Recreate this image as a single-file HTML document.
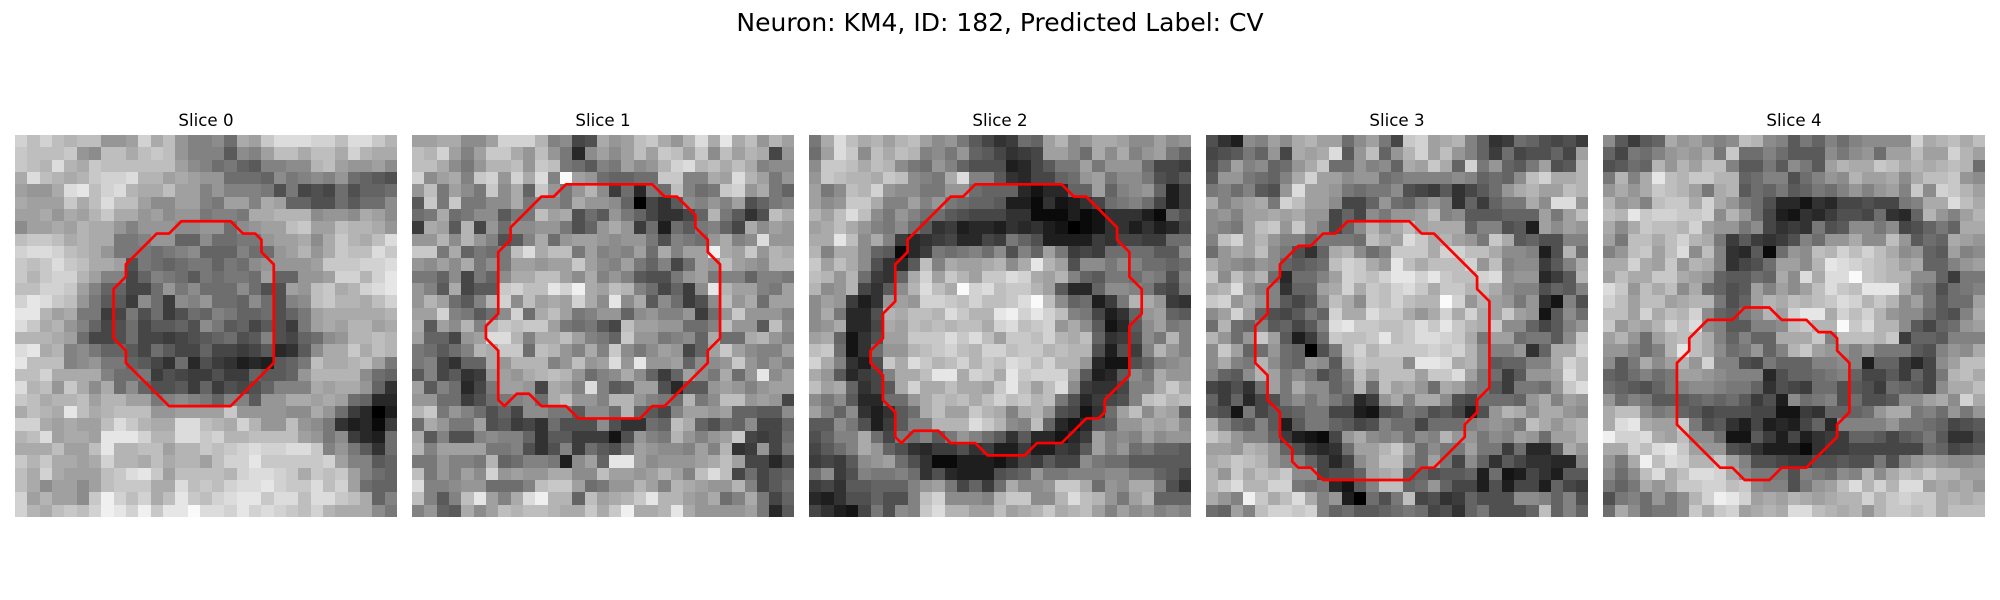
<!DOCTYPE html>
<html>
<head>
<meta charset="utf-8">
<title>Neuron slices</title>
<style>
html,body{margin:0;padding:0;background:#fff;}
svg{display:block;}
text{font-family:"DejaVu Sans","Liberation Sans",sans-serif;fill:#000;}
</style>
</head>
<body>
<svg id="figure" width="2000" height="600" viewBox="0 0 2000 600" xmlns="http://www.w3.org/2000/svg">
<rect x="0" y="0" width="2000" height="600" fill="#ffffff"/>
<text x="1000" y="31" text-anchor="middle" font-size="25">Neuron: KM4, ID: 182, Predicted Label: CV</text>
</svg>
<script>
const sliceTitles = ["Slice 0","Slice 1","Slice 2","Slice 3","Slice 4"];

const slice0 = [
[21,19,21,19,18,19,19,15,15,16,21,17,19,15,13,13,14,11,17,16,20,22,22,22,21,21,19,22,22,20,18],
[20,19,19,19,20,15,14,19,19,17,19,20,19,15,13,13,13,9,14,13,16,19,19,17,19,19,17,21,18,17,17],
[20,19,18,22,18,17,20,19,19,19,19,19,19,16,14,13,11,12,10,9,13,13,14,14,18,19,16,15,15,16,14],
[17,22,19,18,17,18,20,21,21,22,18,18,16,17,16,15,15,11,11,11,10,14,12,13,14,13,15,11,10,9,8],
[16,15,15,17,22,23,19,21,22,18,17,17,19,16,16,13,15,13,13,13,12,8,12,7,8,7,11,8,10,10,11],
[17,16,16,16,20,17,19,22,19,19,16,14,14,16,16,13,12,16,16,13,17,16,10,10,8,8,11,9,11,11,14],
[16,16,17,15,17,16,18,20,17,17,15,16,14,15,15,12,13,13,12,17,17,18,18,18,14,15,15,14,17,16,14],
[14,16,16,17,16,18,17,17,15,13,15,15,15,14,14,15,15,11,14,15,16,16,19,20,16,16,19,18,18,17,15],
[19,20,20,19,17,18,17,17,12,12,13,15,15,10,10,14,11,11,12,12,15,16,16,17,14,17,20,18,17,19,22],
[21,22,22,21,19,18,17,15,12,12,12,11,12,13,14,10,10,10,13,11,11,15,16,18,15,17,20,19,19,22,20],
[20,19,20,22,20,19,17,17,16,8,12,11,10,11,12,12,10,12,11,14,15,15,15,15,16,20,20,20,21,21,22],
[20,18,20,21,21,18,16,13,13,7,10,13,12,11,9,12,11,12,12,11,16,10,10,15,15,16,21,21,18,21,23],
[19,19,21,21,20,16,13,10,10,7,7,11,15,12,14,11,11,11,14,11,8,8,16,15,19,20,17,18,21,22,23],
[21,23,22,20,19,15,12,9,9,6,14,11,6,14,13,15,11,11,10,14,11,8,13,14,19,20,18,18,17,19,21],
[23,23,18,16,17,12,12,6,7,12,8,11,6,8,11,10,13,12,10,10,11,8,10,12,16,17,17,17,17,17,18],
[22,20,17,18,15,13,10,7,8,11,7,9,9,10,8,14,12,9,10,7,9,8,6,12,16,17,16,18,18,16,17],
[18,18,18,17,16,11,7,7,8,11,7,7,6,7,8,9,10,11,8,9,13,8,7,10,11,14,15,18,18,19,18],
[22,23,17,18,13,14,12,10,10,9,7,11,9,7,7,10,7,7,6,7,9,4,5,9,14,17,17,20,17,19,18],
[23,19,19,19,13,14,15,12,12,10,9,7,5,11,4,8,6,5,3,4,3,9,10,12,19,17,17,18,19,16,12],
[19,19,21,17,17,17,17,13,11,11,12,6,8,7,6,6,8,6,6,10,9,9,10,15,18,18,18,18,14,11,10],
[22,18,19,15,20,17,14,17,11,14,10,8,8,9,6,10,6,8,7,8,10,13,13,13,17,16,17,17,15,10,5],
[20,19,17,18,18,19,16,18,18,16,16,12,13,14,13,12,10,13,13,9,15,15,17,17,16,17,16,11,10,4,4],
[17,19,18,17,23,19,17,18,19,19,19,15,15,16,16,16,16,20,15,15,15,15,14,14,17,15,11,6,4,0,3],
[21,21,17,16,17,16,16,19,22,20,18,17,17,22,22,19,18,17,21,18,15,15,19,15,14,12,5,3,4,1,6],
[18,19,22,16,17,17,16,23,23,23,21,18,18,22,22,20,21,18,18,19,19,19,19,16,15,12,14,6,4,3,11],
[17,17,17,19,16,16,19,23,18,18,19,19,16,18,18,20,19,20,21,22,21,21,22,22,20,13,15,12,9,5,11],
[20,18,20,17,17,16,17,21,18,18,17,19,17,18,18,16,19,21,21,23,20,20,20,20,20,21,16,13,13,9,10],
[19,17,21,17,16,16,16,19,20,22,23,20,16,19,19,19,19,18,21,22,22,21,20,17,20,19,20,16,13,11,10],
[19,17,14,16,16,14,16,19,20,20,20,17,17,22,19,20,19,21,22,22,23,21,20,20,22,19,21,16,11,10,10],
[21,16,18,16,16,14,20,24,21,19,21,17,19,23,20,19,21,22,23,23,20,22,22,19,22,22,20,19,17,10,13],
[21,18,17,19,20,19,21,24,23,21,24,20,23,23,25,22,22,21,23,21,22,21,20,19,21,18,17,17,17,14,12]
];

const slice1 = [
[16,16,17,17,14,14,16,21,21,21,18,13,14,7,8,17,15,16,19,20,17,15,18,22,17,23,17,19,15,18,16],
[19,18,21,16,13,16,20,20,17,15,19,15,12,4,14,16,14,16,19,16,20,19,16,20,14,19,16,18,17,7,15],
[19,19,17,14,12,15,18,18,19,15,20,19,12,11,9,13,12,16,14,15,18,21,22,18,19,17,19,17,13,14,14],
[21,14,16,17,13,20,21,15,21,17,22,13,25,16,15,11,10,10,11,11,20,20,13,13,17,16,22,18,16,12,15],
[15,19,12,16,14,12,20,14,17,10,20,15,12,15,18,14,6,11,4,12,11,19,13,11,12,20,21,15,17,12,10],
[9,20,12,20,12,12,14,14,17,12,14,14,12,17,15,15,14,10,0,7,5,9,14,13,15,13,16,8,10,12,13],
[11,12,17,11,12,14,14,9,12,12,19,16,17,8,11,9,15,12,10,7,5,5,7,10,18,12,9,5,8,19,17],
[6,17,16,9,18,7,15,11,14,14,15,15,12,8,10,15,17,15,6,11,3,11,9,12,13,10,7,17,14,16,15],
[15,15,18,14,18,15,13,8,9,13,17,11,15,16,16,15,14,15,15,12,8,13,12,11,15,17,13,14,22,15,15],
[20,20,12,17,10,12,11,12,19,22,17,19,19,12,16,13,14,13,16,11,17,13,16,16,24,17,16,20,15,18,17],
[15,14,16,14,17,12,14,12,16,16,15,16,16,20,16,14,13,16,12,10,13,7,11,16,15,19,16,15,14,18,18],
[12,12,10,14,7,12,10,14,17,17,19,19,16,14,17,13,15,13,9,8,8,12,15,16,12,13,13,10,13,13,12],
[15,13,9,17,7,9,9,20,21,19,19,23,21,24,17,16,19,18,13,11,7,10,6,14,23,18,16,16,13,12,16],
[15,18,16,11,9,13,18,21,14,19,16,17,16,21,17,14,23,14,17,9,14,11,6,8,14,19,15,17,11,16,16],
[16,16,21,13,12,9,11,14,21,11,17,19,16,12,13,15,15,10,14,15,13,13,15,6,11,15,20,15,15,15,13],
[17,9,16,14,18,13,18,20,19,20,20,16,12,11,12,9,7,19,16,16,15,15,11,11,13,19,15,15,9,19,14],
[16,10,10,7,15,16,22,22,18,13,17,17,19,16,13,12,10,20,15,15,12,13,14,10,17,11,11,17,18,15,13],
[12,11,9,11,13,18,17,20,20,11,19,18,15,13,17,13,20,14,12,14,16,15,7,10,16,20,16,14,13,13,16],
[12,13,7,5,10,10,17,15,18,18,18,13,15,19,15,16,22,15,23,15,15,16,10,14,14,15,20,15,13,15,13],
[9,13,7,9,5,6,15,16,15,17,18,19,18,15,11,13,14,17,14,10,6,10,16,14,12,17,11,15,23,14,16],
[16,9,13,11,4,7,12,16,16,15,7,17,16,13,22,13,9,10,16,16,8,4,9,9,15,16,15,13,15,16,16],
[15,15,11,11,6,8,11,12,13,14,11,17,19,15,15,13,18,18,15,13,12,11,18,12,14,19,19,15,16,15,7],
[18,20,12,15,13,11,8,10,7,14,14,12,12,9,14,14,11,18,10,9,7,13,16,16,15,16,10,10,9,9,14],
[11,17,15,12,12,16,8,9,6,7,5,11,8,8,8,14,8,5,5,11,10,19,17,10,8,11,10,14,7,7,10],
[17,9,13,8,8,13,14,13,13,10,5,9,9,6,6,6,2,8,15,13,12,18,15,13,15,16,20,7,6,7,11],
[18,13,16,16,16,16,12,12,13,8,5,8,13,6,11,9,8,12,16,15,14,14,13,16,13,18,5,6,15,7,12],
[12,12,15,13,13,12,18,10,11,13,13,12,3,14,16,10,23,23,16,14,15,15,15,16,17,19,16,7,7,4,7],
[19,12,15,13,16,14,21,15,16,15,15,17,17,14,14,19,16,16,15,16,18,16,13,19,22,19,7,11,7,9,10],
[22,13,13,14,15,15,11,11,11,13,19,20,20,16,11,12,15,15,18,16,13,18,17,16,15,15,18,13,7,9,11],
[19,13,9,13,19,23,16,13,17,22,24,18,18,10,19,16,17,18,20,23,18,18,16,15,17,11,13,17,12,7,10],
[13,15,10,9,17,14,16,19,18,19,19,18,17,17,20,17,20,24,17,17,18,23,17,15,15,15,15,16,12,4,9]
];

const slice2 = [
[12,17,22,19,17,18,16,18,19,16,14,15,12,9,7,5,6,11,10,16,18,14,15,17,17,16,14,14,16,14,15],
[11,16,22,20,14,19,17,19,18,13,14,12,15,10,9,7,5,6,7,16,16,14,11,17,14,17,13,15,16,12,10],
[14,20,20,19,17,19,18,14,12,11,15,13,10,8,8,8,3,4,7,9,12,12,16,12,15,15,15,11,7,7,6],
[15,20,19,18,18,17,20,19,14,13,12,17,22,13,13,9,5,4,7,7,10,11,15,16,12,14,14,12,8,7,9],
[16,12,14,19,18,21,15,14,14,12,12,15,15,11,10,10,10,4,2,4,4,10,10,16,10,13,14,15,10,3,6],
[16,14,15,20,20,17,13,13,16,13,15,12,11,10,10,9,3,3,1,5,2,3,5,7,11,12,13,11,7,3,6],
[18,16,19,22,19,14,12,15,13,11,11,9,8,7,7,7,5,5,1,1,1,3,1,2,5,5,5,3,1,10,8],
[16,17,19,17,15,13,12,14,11,9,5,6,3,4,4,3,5,4,5,3,2,0,1,2,5,5,3,5,3,4,7],
[17,17,23,19,14,17,13,6,4,5,6,7,4,4,7,6,12,10,8,3,3,3,3,6,5,7,7,6,6,11,11],
[18,13,17,17,14,10,9,1,4,6,12,11,12,13,11,14,8,13,10,16,12,6,7,6,11,11,11,11,9,9,14],
[20,16,19,17,14,8,5,4,9,19,13,17,16,16,17,18,14,17,23,18,16,8,14,14,12,14,13,11,11,10,11],
[19,18,15,18,11,6,5,10,17,21,16,20,18,16,20,20,22,21,17,16,18,13,10,9,12,12,11,13,12,8,13],
[18,14,15,18,7,5,9,14,18,22,19,17,25,21,22,19,20,20,18,16,9,4,4,10,14,14,13,12,8,7,12],
[14,16,15,6,3,5,15,16,15,21,21,20,19,21,19,19,20,22,25,19,14,10,11,3,6,12,18,17,15,6,5],
[14,17,12,4,4,8,18,17,19,19,18,22,20,18,18,23,24,21,23,21,19,13,12,7,3,5,10,15,16,10,9],
[14,15,17,4,4,7,17,16,19,18,19,18,19,19,17,21,22,19,20,21,15,17,14,9,2,4,9,14,16,12,13],
[16,17,10,2,5,8,16,16,20,20,20,22,20,22,19,16,20,20,19,21,18,17,19,10,5,6,8,14,12,18,13],
[19,20,11,2,5,11,15,15,18,19,20,21,19,18,21,21,19,20,20,18,19,18,18,8,3,8,6,13,18,15,13],
[21,17,13,5,3,8,20,17,22,20,18,19,21,18,20,19,22,21,19,21,18,18,15,4,2,2,8,10,13,14,15],
[17,15,9,4,6,7,13,17,17,19,23,23,17,21,20,17,23,20,21,21,21,16,9,3,4,9,14,12,17,15,15],
[19,16,17,10,5,7,9,17,21,17,17,19,17,17,16,20,23,19,16,19,22,14,6,5,5,7,13,13,17,20,17],
[14,12,14,9,4,4,11,11,15,17,19,18,19,17,19,21,19,20,18,19,12,8,4,6,7,8,13,19,20,18,19],
[16,13,10,14,5,3,5,9,11,17,19,16,16,20,18,17,13,17,18,15,8,7,2,5,11,16,19,14,17,16,10],
[9,9,14,12,8,3,6,9,13,13,18,18,18,22,20,18,14,13,19,10,4,2,4,9,10,15,15,17,16,17,14],
[8,10,13,13,17,11,7,12,11,13,9,12,15,13,11,9,5,9,4,4,2,4,6,16,13,14,13,16,14,15,15],
[7,9,11,13,17,15,10,8,5,4,6,6,8,5,6,3,3,6,3,3,6,5,9,16,13,15,11,12,10,10,9],
[6,7,6,9,14,15,16,11,8,5,1,1,3,3,3,2,4,7,6,9,7,7,14,12,11,11,9,9,9,9,9],
[11,14,6,8,13,12,12,13,11,5,8,4,3,3,3,8,9,10,15,12,12,13,13,13,14,14,12,12,10,9,7],
[6,7,5,9,9,10,10,10,13,15,16,12,7,10,6,11,17,14,14,15,20,20,17,11,15,14,17,17,13,8,5],
[4,3,5,8,8,10,8,8,13,19,21,14,14,14,13,18,20,20,14,14,18,22,19,18,15,12,16,18,10,10,10],
[7,5,3,2,7,12,8,14,13,20,22,18,18,16,16,19,16,17,18,20,17,18,19,16,13,16,14,15,13,14,13]
];

const slice3 = [
[8,5,3,14,13,16,14,17,18,16,16,11,14,16,12,7,20,21,16,17,18,13,10,5,6,11,10,8,7,8,6],
[7,8,9,12,10,15,7,17,16,17,22,9,15,19,10,15,18,21,16,19,15,13,10,6,11,7,8,8,10,7,16],
[8,11,16,13,14,10,11,15,17,20,11,11,15,13,14,10,17,16,20,17,10,21,12,15,10,9,12,16,8,9,18],
[9,15,15,12,11,10,13,17,21,16,16,14,15,15,11,12,13,13,13,13,14,13,10,11,10,14,19,21,17,17,18],
[12,13,11,13,9,8,15,22,16,16,15,12,11,12,12,14,8,7,6,9,5,7,9,11,15,17,18,16,16,19,18],
[17,13,15,16,17,12,21,19,16,16,14,7,7,10,15,11,10,13,15,13,5,10,6,10,12,12,17,14,22,22,15],
[14,15,13,16,16,17,16,17,15,15,7,10,7,14,12,15,15,16,19,13,14,9,9,9,10,10,10,16,12,16,19],
[14,13,12,16,19,20,15,20,15,13,7,10,14,18,15,17,19,16,17,17,17,10,13,13,8,9,3,16,14,16,15],
[13,19,21,16,18,15,13,13,10,12,12,12,11,19,17,16,22,20,17,18,16,15,12,20,17,9,10,8,8,13,13],
[11,15,17,16,19,14,12,8,5,10,17,18,14,11,13,20,20,20,17,21,21,19,19,17,14,14,13,3,8,18,11],
[17,15,14,13,15,14,10,9,10,11,19,21,20,17,15,23,19,17,19,19,19,21,15,19,13,14,14,6,9,13,17],
[20,14,19,16,18,11,4,11,11,13,16,21,20,19,21,23,23,21,23,20,19,19,21,22,14,15,15,4,6,9,18],
[17,18,22,15,13,13,5,10,10,16,17,21,17,20,19,21,22,20,17,20,20,18,19,17,14,13,13,8,10,9,13],
[20,21,15,17,15,13,9,7,9,14,19,17,14,20,19,21,19,18,18,25,21,15,18,16,15,12,15,5,2,13,8],
[14,16,21,16,10,8,7,9,12,10,21,17,17,22,20,20,17,15,17,21,17,21,17,16,20,16,15,2,9,14,11],
[11,18,11,10,13,9,10,7,9,13,22,23,20,20,19,19,20,22,20,23,20,18,17,20,14,14,10,7,9,13,15],
[18,15,11,15,20,16,9,3,6,11,20,19,19,20,23,19,20,22,22,21,20,17,12,16,16,11,12,12,9,14,20],
[14,20,16,10,11,15,11,10,0,8,12,19,21,18,20,20,20,20,21,20,21,18,14,13,13,15,5,10,17,17,21],
[14,17,13,12,18,14,11,10,15,14,9,17,20,19,19,19,14,23,23,22,17,18,14,9,10,10,13,13,17,21,19],
[13,10,9,14,18,16,12,14,12,8,10,13,19,16,19,19,19,16,20,20,22,16,12,11,6,9,15,15,16,22,19],
[7,6,8,5,11,16,12,17,14,14,10,12,18,11,19,16,17,15,11,17,16,13,12,9,6,12,12,11,15,20,22],
[10,6,10,4,7,8,12,14,12,14,12,10,4,6,15,17,13,17,17,14,8,7,11,11,11,10,15,17,13,16,15],
[9,8,2,12,7,9,9,10,12,12,7,7,3,2,8,9,12,11,8,9,7,3,8,15,18,17,14,17,17,15,14],
[17,13,10,9,13,9,3,9,12,12,10,9,7,8,13,11,11,7,11,11,11,13,14,15,14,12,19,17,15,17,18],
[20,18,15,13,13,10,6,3,2,1,7,15,17,14,13,14,11,14,13,18,15,15,12,14,13,16,15,11,16,16,18],
[16,16,15,18,17,15,10,8,5,4,5,11,16,16,18,20,16,11,14,12,12,16,12,12,6,11,4,4,9,17,15],
[17,18,20,19,18,15,13,13,10,7,4,7,14,16,19,19,14,11,16,12,7,14,10,5,9,7,5,5,4,4,13],
[18,15,20,17,19,18,20,14,14,7,8,8,10,16,17,18,9,10,8,9,9,10,3,11,2,3,7,5,3,9,9],
[18,20,22,18,18,21,21,12,11,12,4,2,9,13,19,19,10,11,15,10,7,7,3,8,3,7,7,3,10,7,6],
[17,15,13,24,20,17,19,22,17,13,15,3,0,11,8,12,19,7,8,5,6,10,8,8,8,14,14,13,10,13,8],
[11,10,16,13,19,21,21,20,21,13,10,11,9,9,10,11,12,11,7,8,5,10,12,8,8,8,10,19,10,13,10]
];

const slice4 = [
[14,9,6,9,10,17,15,16,14,13,14,19,18,14,13,9,12,10,13,11,13,14,14,14,14,21,17,18,19,17,19],
[10,7,12,11,13,15,16,15,17,12,20,11,11,13,11,9,9,9,14,12,14,15,11,16,16,19,16,16,21,18,16],
[8,9,11,10,18,15,18,16,19,19,13,9,9,12,9,14,12,9,16,18,17,17,20,19,17,18,17,18,19,18,11],
[12,18,13,17,23,19,18,20,20,18,18,10,11,13,13,8,11,13,15,14,18,16,16,17,14,17,19,19,20,15,14],
[15,17,15,17,20,19,18,16,12,17,18,9,11,10,12,9,10,12,11,13,15,13,15,16,13,20,14,21,20,18,16],
[18,15,16,13,19,20,20,17,21,17,15,12,11,8,4,4,2,5,4,7,7,8,7,7,12,13,17,17,22,19,17],
[19,18,23,20,21,21,20,20,21,14,18,15,11,7,3,2,5,4,6,8,8,7,11,5,4,10,18,15,13,16,18],
[17,14,17,20,19,19,18,21,16,15,15,12,14,7,5,6,5,12,8,9,14,14,12,14,7,8,10,12,10,17,17],
[16,12,19,19,17,19,21,18,17,12,6,9,6,5,6,8,13,11,15,15,17,14,14,19,15,9,11,10,17,16,15],
[13,15,19,20,16,19,22,14,19,13,5,4,9,1,11,15,14,19,18,21,19,21,19,17,14,15,10,9,16,13,14],
[17,17,21,17,16,20,15,18,17,13,5,7,8,11,16,16,14,18,23,22,21,20,19,18,16,17,10,10,13,15,16],
[16,19,17,17,20,20,17,16,15,10,9,9,11,10,17,14,22,17,22,22,25,20,19,18,18,14,14,10,6,12,12],
[22,20,15,19,17,19,14,17,11,10,8,9,16,13,16,14,16,19,22,20,19,23,23,23,17,13,12,8,11,12,13],
[21,19,16,19,19,16,17,18,18,12,8,10,16,18,17,19,18,19,20,22,21,18,20,18,14,16,12,9,11,11,16],
[19,19,16,21,17,19,18,21,14,10,9,12,14,18,16,21,23,23,17,21,19,21,18,15,14,14,11,9,8,13,17],
[20,15,17,16,18,21,19,22,14,13,9,9,13,13,14,19,20,18,18,25,20,22,18,18,14,9,7,10,11,15,16],
[16,18,15,11,16,18,19,19,17,13,10,13,10,10,17,17,17,20,13,19,19,19,18,20,6,10,10,9,13,13,13],
[15,15,13,11,13,18,23,19,17,14,11,12,15,10,13,18,20,16,15,15,13,15,12,12,12,9,8,13,15,14,17],
[14,9,12,17,14,16,18,15,21,13,13,8,7,12,10,10,10,13,13,14,13,3,10,10,6,4,7,14,16,19,19],
[10,9,11,13,11,12,16,16,15,14,13,13,13,4,8,10,10,11,12,13,10,7,7,9,6,10,7,12,18,19,17],
[11,10,9,8,10,12,13,14,14,13,12,12,10,5,8,7,6,11,11,8,9,8,6,11,10,9,7,14,17,17,19],
[15,11,13,12,9,9,9,10,11,10,11,9,6,8,3,14,11,12,13,8,11,8,8,9,14,14,16,17,14,21,17],
[17,19,19,14,12,13,10,9,7,8,8,8,7,7,2,2,6,5,10,10,10,11,15,17,17,12,13,11,15,12,15],
[17,22,23,17,16,16,20,12,8,9,5,3,7,3,4,3,7,10,4,13,13,13,13,15,12,12,11,10,7,8,9],
[24,21,21,22,17,16,19,14,14,11,2,2,9,6,3,7,3,5,6,6,10,10,9,7,9,10,12,9,5,5,8],
[17,17,21,19,22,23,20,16,15,15,8,7,5,3,3,3,1,5,6,6,7,7,7,7,7,7,11,10,7,8,9],
[15,12,17,24,19,22,21,18,18,20,16,13,8,8,7,6,6,8,8,9,8,8,12,8,13,15,16,15,14,14,15],
[14,11,14,19,22,17,19,22,22,21,17,14,12,12,12,8,13,12,11,14,13,18,14,17,19,18,20,18,18,16,16],
[12,10,12,17,15,17,20,20,21,21,19,20,14,13,13,8,12,15,16,19,22,18,21,18,22,22,16,17,16,17,15],
[8,12,13,11,15,12,14,18,21,24,23,21,16,17,16,18,17,16,17,18,18,21,18,20,21,20,20,17,18,17,18],
[11,17,14,11,12,12,14,20,17,20,21,16,17,18,17,22,22,19,18,17,18,15,18,20,20,19,20,17,19,19,19]
];

const contour0 = [[13.5,7],[17.5,7],[18.5,8],[19.5,8],[20,8.5],[20,9.5],[21,10.5],[21,18.5],[17.5,22],[12.5,22],[9,18.5],[9,17.5],[8,16.5],[8,12.5],[9,11.5],[9,10.5],[11.5,8],[12.5,8]];
const contour1 = [[12.5,4],[19.5,4],[20.5,5],[21.5,5],[23,6.5],[23,7.5],[24,8.5],[24,9.5],[25,10.5],[25,16.5],[24,17.5],[24,18.5],[20.5,22],[19.5,22],[18.5,23],[13.5,23],[12.5,22],[10.5,22],[9.5,21],[8.5,21],[7.5,22],[7,21.5],[7,17.5],[6,16.5],[6,15.5],[7,14.5],[7,9.5],[8,8.5],[8,7.5],[10.5,5],[11.5,5]];
const contour2 = [[13.5,4],[20.5,4],[21.5,5],[22.5,5],[25,7.5],[25,8.5],[26,9.5],[26,11.5],[27,12.5],[27,14.5],[26,15.5],[26,19.5],[24,21.5],[24,22.5],[23.5,23],[22.5,23],[20.5,25],[18.5,25],[17.5,26],[14.5,26],[13.5,25],[11.5,25],[10.5,24],[8.5,24],[7.5,25],[7,24.5],[7,22.5],[6,21.5],[6,19.5],[5,18.5],[5,17.5],[6,16.5],[6,14.5],[7,13.5],[7,10.5],[8,9.5],[8,8.5],[11.5,5],[12.5,5]];
const contour3 = [[11.5,7],[16.5,7],[17.5,8],[18.5,8],[22,11.5],[22,12.5],[23,13.5],[23,20.5],[22,21.5],[22,22.5],[21,23.5],[21,24.5],[18.5,27],[17.5,27],[16.5,28],[9.5,28],[8.5,27],[7.5,27],[7,26.5],[7,25.5],[6,24.5],[6,22.5],[5,21.5],[5,19.5],[4,18.5],[4,15.5],[5,14.5],[5,12.5],[6,11.5],[6,10.5],[7.5,9],[8.5,9],[9.5,8],[10.5,8]];
const contour4 = [[11.5,14],[13.5,14],[14.5,15],[16.5,15],[17.5,16],[18.5,16],[19,16.5],[19,17.5],[20,18.5],[20,22.5],[19,23.5],[19,24.5],[16.5,27],[14.5,27],[13.5,28],[11.5,28],[10.5,27],[9.5,27],[6,23.5],[6,18.5],[7,17.5],[7,16.5],[8.5,15],[10.5,15]];

const allSlices = [slice0, slice1, slice2, slice3, slice4];
const allContours = [contour0, contour1, contour2, contour3, contour4];

(function () {
  const NS = "http://www.w3.org/2000/svg";
  const svg = document.getElementById("figure");
  const panelSize = 382;
  const panelTop = 135;
  const gridCount = 31;
  const cell = panelSize / gridCount;
  function panelLeft(p) { return 15 + 397 * p; }
  function xScale(p, v) { return panelLeft(p) + v * cell; }
  function yScale(v) { return panelTop + v * cell; }
  function grayOf(v) {
    const g = Math.max(0, Math.min(255, Math.round(v * 10)));
    return "rgb(" + g + "," + g + "," + g + ")";
  }
  allSlices.forEach(function (grid, p) {
    const group = document.createElementNS(NS, "g");
    
    
    svg.appendChild(group);

    const title = document.createElementNS(NS, "text");
    
    
    title.setAttribute("x", xScale(p, gridCount / 2));
    title.setAttribute("y", 126);
    title.setAttribute("text-anchor", "middle");
    title.setAttribute("font-size", "16.67");
    title.textContent = sliceTitles[p];
    group.appendChild(title);

    grid.forEach(function (row, r) {
      row.forEach(function (v, c) {
        const rect = document.createElementNS(NS, "rect");
        
        
        const x0 = Math.round(xScale(p, c));
        const x1 = Math.round(xScale(p, c + 1));
        const y0 = Math.round(yScale(r));
        const y1 = Math.round(yScale(r + 1));
        rect.setAttribute("x", x0);
        rect.setAttribute("y", y0);
        rect.setAttribute("width", x1 - x0);
        rect.setAttribute("height", y1 - y0);
        rect.setAttribute("fill", grayOf(v));
        rect.setAttribute("shape-rendering", "crispEdges");
        group.appendChild(rect);
      });
    });

    const line = document.createElementNS(NS, "polygon");
    
    
    line.setAttribute("points", allContours[p].map(function (pt) {
      return xScale(p, pt[0]).toFixed(2) + "," + yScale(pt[1]).toFixed(2);
    }).join(" "));
    line.setAttribute("fill", "none");
    line.setAttribute("stroke", "#ff0000");
    line.setAttribute("stroke-width", "2.7");
    line.setAttribute("stroke-linejoin", "round");
    group.appendChild(line);
  });
})();
</script>
</body>
</html>
